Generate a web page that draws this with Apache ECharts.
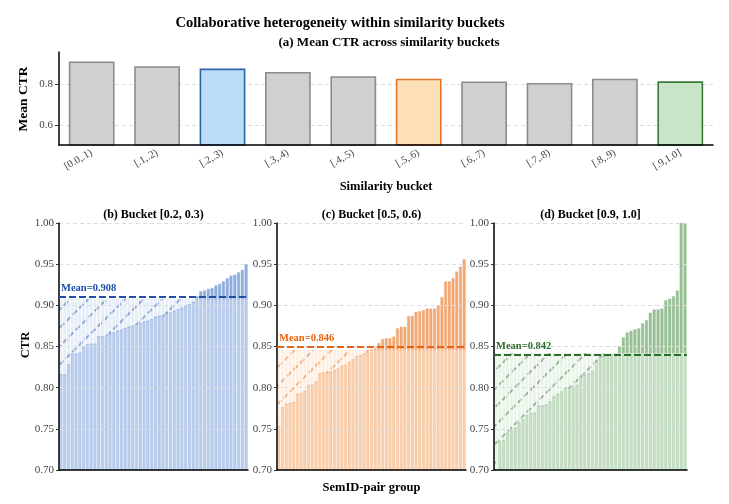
<!DOCTYPE html>
<html><head><meta charset="utf-8">
<script src="https://cdn.jsdelivr.net/npm/echarts@6/dist/echarts.min.js"></script>
<style>html,body{margin:0;padding:0;background:#fff}#c{width:729px;height:504px}</style>
</head><body><div id="c"></div>
<script>
// ---- data ----
const bucketLabels = ['[0.0,.1)', '[.1,.2)', '[.2,.3)', '[.3,.4)', '[.4,.5)', '[.5,.6)', '[.6,.7)', '[.7,.8)', '[.8,.9)', '[.9,1.0]'];
const bucketMeanCTR = [0.913, 0.890, 0.878, 0.861, 0.840, 0.828, 0.814, 0.807, 0.828, 0.815];
const highlightIdx = [2, 5, 9];

const groupB = [0.816,0.816,0.828,0.841,0.841,0.842,0.849,0.852,0.853,0.853,
 0.862,0.862,0.863,0.865,0.867,0.869,0.870,0.872,0.874,0.875,
 0.877,0.878,0.880,0.881,0.883,0.886,0.887,0.887,0.890,0.891,
 0.893,0.895,0.897,0.899,0.901,0.904,0.911,0.917,0.918,0.920,
 0.921,0.924,0.926,0.929,0.933,0.936,0.937,0.940,0.943,0.950];
const meanB = 0.908;

const groupC = [0.753,0.776,0.780,0.781,0.782,0.792,0.793,0.796,0.803,0.803,
 0.807,0.817,0.818,0.818,0.819,0.821,0.823,0.826,0.827,0.831,
 0.834,0.838,0.839,0.841,0.842,0.847,0.848,0.854,0.859,0.860,
 0.860,0.862,0.872,0.874,0.874,0.887,0.887,0.892,0.893,0.894,
 0.896,0.896,0.896,0.900,0.910,0.929,0.929,0.933,0.941,0.947,0.956];
const meanC = 0.846;

const groupD = [0.700,0.734,0.736,0.745,0.748,0.751,0.757,0.761,0.766,0.769,
 0.769,0.778,0.778,0.779,0.783,0.789,0.792,0.795,0.799,0.800,
 0.801,0.803,0.813,0.815,0.817,0.820,0.831,0.837,0.838,0.839,
 0.840,0.841,0.850,0.861,0.867,0.869,0.871,0.872,0.878,0.882,
 0.891,0.895,0.895,0.896,0.906,0.908,0.911,0.918,1.000,1.000];
const meanD = 0.842;

const panelTitles = ['(b) Bucket [0.2, 0.3)', '(c) Bucket [0.5, 0.6)', '(d) Bucket [0.9, 1.0]'];

// ---- styling ----
const SERIF = '"Liberation Serif", "DejaVu Serif", serif';
const topStyles = {
  2: {fill: '#bcdcf7', border: '#2f63b0'},
  5: {fill: '#fde0b6', border: '#e8742a'},
  9: {fill: '#c8e5c8', border: '#3b7a3b'}
};
const panels = [
  {vals: groupB, mean: meanB, light: '#b9cdec', dark: '#8eacdd', edge: '#9db7e2', line: '#1f4fa8', left: 59, width: 189},
  {vals: groupC, mean: meanC, light: '#f9d0ad', dark: '#f2a874', edge: '#f4b98c', line: '#e8620f', left: 277, width: 189},
  {vals: groupD, mean: meanD, light: '#c6dfc4', dark: '#98c095', edge: '#abcca8', line: '#2e6b2e', left: 494, width: 193}
];

const chart = echarts.init(document.getElementById('c'), null, {renderer: 'canvas'});

const grids = [{left: 59, right: 16, top: 52, bottom: 359}];
const xAxes = [{
  gridIndex: 0, type: 'category', data: bucketLabels, z: 5,
  axisLine: {lineStyle: {color: '#000', width: 1.5}},
  axisTick: {alignWithLabel: true, length: 4, lineStyle: {color: '#333'}},
  axisLabel: {rotate: 30, interval: 0, fontFamily: SERIF, fontSize: 10.5, color: '#444', margin: 7}
}];
const yAxes = [{
  gridIndex: 0, type: 'value', min: 0.5, max: 0.96, interval: 0.1,
  axisLine: {show: true, lineStyle: {color: '#000', width: 1.5}},
  axisTick: {show: true, customValues: [0.6, 0.8], length: 4, lineStyle: {color: '#333'}},
  axisLabel: {customValues: [0.6, 0.8], formatter: v => v.toFixed(1), fontFamily: SERIF, fontSize: 11, color: '#444', margin: 6},
  splitLine: {show: true, lineStyle: {type: [4, 3], color: '#dddddd', width: 1}}
}];
const series = [{
  type: 'bar', xAxisIndex: 0, yAxisIndex: 0, barCategoryGap: '30%',
  data: bucketMeanCTR.map((v, i) => {
    const s = topStyles[i] || {fill: '#d0d0d0', border: '#8c8c8c'};
    return {value: v, itemStyle: {color: s.fill, borderColor: s.border, borderWidth: 1.6}};
  })
}];

panels.forEach((p, k) => {
  const gi = k + 1;
  grids.push({left: p.left, width: p.width, top: 223, bottom: 34});
  xAxes.push({
    gridIndex: gi, type: 'category', data: p.vals.map((_, i) => i), z: 5,
    axisLine: {lineStyle: {color: '#000', width: 1.5}},
    axisTick: {show: false}, axisLabel: {show: false}
  });
  yAxes.push({
    gridIndex: gi, type: 'value', min: 0.70, max: 1.00, interval: 0.05, z: 5,
    axisLine: {show: true, lineStyle: {color: '#000', width: 1.5}},
    axisTick: {show: true, length: 3, lineStyle: {color: '#333'}},
    axisLabel: {formatter: v => v.toFixed(2), fontFamily: SERIF, fontSize: 11, color: '#444', margin: 5},
    splitLine: {show: true, lineStyle: {type: [4, 3], color: '#dddddd', width: 1}}
  });
  const stack = 's' + k;
  series.push({
    type: 'bar', xAxisIndex: gi, yAxisIndex: gi, stack, barCategoryGap: '22%',
    data: p.vals.map(v => Math.min(v, p.mean)),
    itemStyle: {color: p.light, borderColor: p.edge, borderWidth: 0.4},
    markLine: {
      symbol: 'none', silent: true, z: 10,
      lineStyle: {color: p.line, type: [7, 3], width: 2},
      label: {show: true, position: 'insideStartTop', formatter: 'Mean=' + p.mean.toFixed(3),
        color: p.line, fontFamily: SERIF, fontWeight: 'bold', fontSize: 10.5, distance: [2, 3]},
      data: [{yAxis: p.mean}]
    }
  });
  series.push({
    type: 'bar', xAxisIndex: gi, yAxisIndex: gi, stack, barCategoryGap: '22%',
    data: p.vals.map(v => Math.max(0, v - p.mean)),
    itemStyle: {color: p.dark, borderColor: p.dark, borderWidth: 0.4}
  });
  series.push({
    type: 'bar', xAxisIndex: gi, yAxisIndex: gi, stack, barCategoryGap: '22%',
    data: p.vals.map(v => Math.max(0, p.mean - v)),
    itemStyle: {
      color: 'rgba(255,255,255,0)',
      decal: {
        symbol: 'rect', symbolSize: 1, color: echarts.color.modifyAlpha(p.line, 0.45),
        backgroundColor: echarts.color.modifyAlpha(p.light, 0.35),
        dashArrayX: [6, 3], dashArrayY: [1.2, 11], rotation: -Math.PI / 4
      }
    }
  });
});

const txt = (text, x, y, size, rot) => ({
  type: 'text', x, y, rotation: rot || 0, silent: true,
  style: {text, font: 'bold ' + size + 'px ' + SERIF, fill: '#000', textAlign: 'center', textVerticalAlign: 'middle'}
});
const graphics = [
  txt('Collaborative heterogeneity within similarity buckets', 340, 23, 14.5),
  txt('(a) Mean CTR across similarity buckets', 389, 43, 13),
  txt('Mean CTR', 24, 99, 13.5, Math.PI / 2),
  txt('Similarity bucket', 386, 187, 12.5),
  txt('CTR', 26, 345, 12.5, Math.PI / 2),
  txt('SemID-pair group', 371.5, 488, 12.5)
];
panels.forEach((p, k) => graphics.push(txt(panelTitles[k], p.left + p.width / 2, 215, 12)));

chart.setOption({
  animation: false,
  backgroundColor: '#fff',
  grid: grids, xAxis: xAxes, yAxis: yAxes, series, graphic: graphics
});
</script></body></html>
